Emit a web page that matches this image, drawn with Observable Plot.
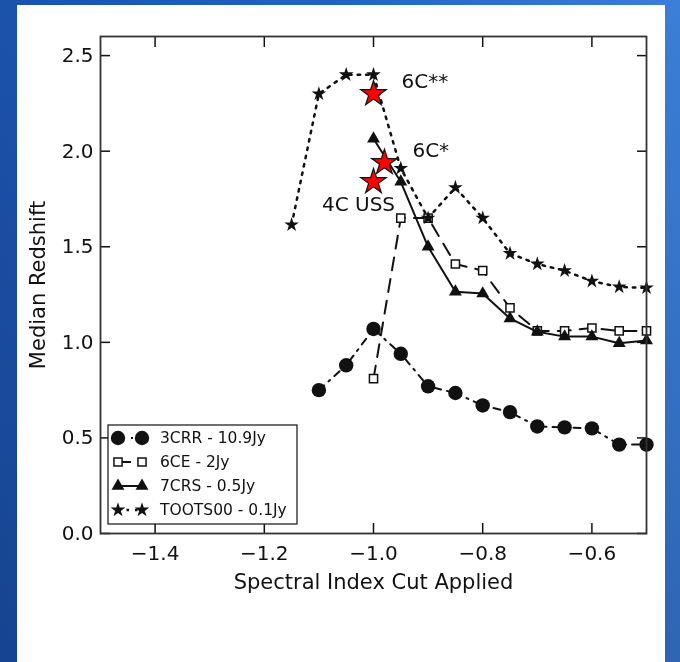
<!DOCTYPE html>
<html>
<head>
<meta charset="utf-8">
<script src="https://cdn.jsdelivr.net/npm/d3@7"></script>
<script src="https://cdn.jsdelivr.net/npm/@observablehq/plot@0.6"></script>
<style>
html, body { margin: 0; padding: 0; width: 680px; height: 662px; overflow: hidden; }
#bg { position: absolute; left: 0; top: 0; width: 680px; height: 662px;
  background: linear-gradient(to bottom, rgba(10,25,70,0) 0%, rgba(10,25,70,0.25) 100%),
              linear-gradient(to right, #1b52aa 0%, #2262c6 50%, #3b7fd8 100%); }
#panel { position: absolute; left: 17px; top: 5px; width: 648px; height: 657px; background: #ffffff; }
#chart { position: absolute; left: 0; top: 0; will-change: transform; }
#chart svg text { font-family: "DejaVu Sans", sans-serif; }
</style>
</head>
<body>
<div id="bg"></div>
<div id="panel"><div id="chart"></div></div>
<script>
// ---- data ----
const seriesNames = ["3CRR - 10.9Jy", "6CE - 2Jy", "7CRS - 0.5Jy", "TOOTS00 - 0.1Jy"];

const cuts3CRR = [-1.1, -1.05, -1.0, -0.95, -0.9, -0.85, -0.8, -0.75, -0.7, -0.65, -0.6, -0.55, -0.5];
const z3CRR    = [0.75, 0.88, 1.07, 0.94, 0.77, 0.735, 0.67, 0.635, 0.56, 0.555, 0.55, 0.465, 0.465];

const cuts6CE  = [-1.0, -0.95, -0.9, -0.85, -0.8, -0.75, -0.7, -0.65, -0.6, -0.55, -0.5];
const z6CE     = [0.81, 1.65, 1.65, 1.41, 1.375, 1.18, 1.06, 1.06, 1.075, 1.06, 1.06];

const cuts7CRS = [-1.0, -0.95, -0.9, -0.85, -0.8, -0.75, -0.7, -0.65, -0.6, -0.55, -0.5];
const z7CRS    = [2.065, 1.84, 1.50, 1.265, 1.255, 1.125, 1.055, 1.03, 1.03, 0.995, 1.01];

const cutsTOOTS = [-1.15, -1.1, -1.05, -1.0, -0.95, -0.9, -0.85, -0.8, -0.75, -0.7, -0.65, -0.6, -0.55, -0.5];
const zTOOTS    = [1.615, 2.30, 2.40, 2.40, 1.91, 1.65, 1.81, 1.65, 1.465, 1.41, 1.375, 1.32, 1.29, 1.285];

const markNames = ["6C**", "6C*", "4C USS"];
const markCuts  = [-1.0, -0.98, -1.0];
const markZ     = [2.30, 1.94, 1.84];

const xTicks = [-1.4, -1.2, -1.0, -0.8, -0.6];
const yTicks = [0.0, 0.5, 1.0, 1.5, 2.0, 2.5];

// ---- build tables ----
const zipRows = (xs, ys) => xs.map((x, i) => ({x, z: ys[i]}));
const rows3CRR = zipRows(cuts3CRR, z3CRR);
const rows6CE = zipRows(cuts6CE, z6CE);
const rows7CRS = zipRows(cuts7CRS, z7CRS);
const rowsTOOTS = zipRows(cutsTOOTS, zTOOTS);
const rowsMarks = markNames.map((name, i) => ({name, x: markCuts[i], z: markZ[i]}));

// ---- styles ----
const INK = "#111";
const styles = [
  {symbol: "circle",   r: 7.2, fill: INK,  stroke: "none", strokeWidth: 0, dash: "7,6,2,6", lw: 2},
  {symbol: "square",   r: 4.6, fill: "#fff", stroke: INK, strokeWidth: 1.5, dash: "13,9", lw: 2},
  {symbol: "triangle", r: 4.8, fill: INK,  stroke: "none", strokeWidth: 0, dash: null, lw: 2},
  {symbol: "star",     r: 4.6, fill: INK,  stroke: "none", strokeWidth: 0, dash: "2.5,6", lw: 2.5}
];
const allRows = [rows3CRR, rows6CE, rows7CRS, rowsTOOTS];

const seriesMarks = [];
allRows.forEach((rows, i) => {
  const s = styles[i];
  seriesMarks.push(Plot.line(rows, {x: "x", y: "z", stroke: INK, strokeWidth: s.lw, strokeDasharray: s.dash || undefined}));
  seriesMarks.push(Plot.dot(rows, {x: "x", y: "z", symbol: s.symbol, r: s.r, fill: s.fill, stroke: s.stroke, strokeWidth: s.strokeWidth}));
});

// label offsets (pixels) for the red-star annotations
const labelOffsets = [
  {dx: 28, dy: -12, textAnchor: "start"},
  {dx: 28, dy: -12, textAnchor: "start"},
  {dx: -15, dy: 23, textAnchor: "middle"}
];
const labelMarks = rowsMarks.map((row, i) =>
  Plot.text([row], {x: "x", y: "z", text: "name", fontSize: 20, fill: INK, ...labelOffsets[i]})
);

// legend drawn as a custom render mark
function legendMark(index, scales, values, dims) {
  const g = d3.create("svg:g");
  const left = dims.marginLeft + 8;
  const bottom = dims.height - dims.marginBottom - 9;
  const boxH = 99, boxW = 189;
  const top = bottom - boxH;
  g.append("rect").attr("x", left).attr("y", top).attr("width", boxW).attr("height", boxH)
    .attr("fill", "#fff").attr("stroke", INK).attr("stroke-width", 1.2);
  const symMap = {circle: d3.symbolCircle, square: d3.symbolSquare, triangle: d3.symbolTriangle, star: d3.symbolStar};
  seriesNames.forEach((name, i) => {
    const s = styles[i];
    const cy = top + 13 + i * 24;
    const x1 = left + 10, x2 = left + 34;
    g.append("line").attr("x1", x1).attr("x2", x2).attr("y1", cy).attr("y2", cy)
      .attr("stroke", INK).attr("stroke-width", s.lw).attr("stroke-dasharray", s.dash);
    [x1, x2].forEach(cx => {
      g.append("path").attr("transform", `translate(${cx},${cy})`)
        .attr("d", d3.symbol(symMap[s.symbol], Math.PI * s.r * s.r)())
        .attr("fill", s.fill).attr("stroke", s.stroke).attr("stroke-width", s.strokeWidth);
    });
    g.append("text").attr("x", left + 52).attr("y", cy).attr("dy", "0.35em")
      .attr("text-anchor", "start").attr("font-size", 15.5).attr("fill", INK).text(name);
  });
  return g.node();
}

const fmt = d3.format(".1f");

const chart = Plot.plot({
  width: 648,
  height: 620,
  marginLeft: 83,
  marginRight: 19,
  marginTop: 31,
  marginBottom: 92,
  style: {fontFamily: "DejaVu Sans", fontSize: "20px", color: INK, background: "transparent", overflow: "visible"},
  x: {domain: [-1.5, -0.5]},
  y: {domain: [0, 2.6]},
  marks: [
    Plot.axisX(xTicks, {anchor: "bottom", tickSize: -10, tickPadding: 22, tickFormat: fmt, label: null, fontSize: 20, strokeWidth: 1.5}),
    Plot.axisX(xTicks, {anchor: "top", tickSize: -10, tickFormat: () => "", label: null, strokeWidth: 1.5}),
    Plot.axisY(yTicks, {anchor: "left", tickSize: -10, tickPadding: 17, tickFormat: fmt, label: null, fontSize: 20, strokeWidth: 1.5}),
    Plot.axisY(yTicks, {anchor: "right", tickSize: -10, tickFormat: () => "", label: null, strokeWidth: 1.5}),
    ...seriesMarks,
    Plot.dot(rowsMarks, {x: "x", y: "z", symbol: "star", r: 8, fill: "#ff0000", stroke: INK, strokeWidth: 1.2}),
    ...labelMarks,
    legendMark,
    Plot.frame({stroke: "#333", strokeWidth: 1.8}),
    Plot.text(["Spectral Index Cut Applied"], {frameAnchor: "bottom", dy: 49, lineAnchor: "middle", textAnchor: "middle", fontSize: 21, fill: INK}),
    Plot.text(["Median Redshift"], {frameAnchor: "left", dx: -62, rotate: -90, textAnchor: "middle", lineAnchor: "middle", fontSize: 21, fill: INK})
  ]
});
document.getElementById("chart").appendChild(chart);
</script>
</body>
</html>
